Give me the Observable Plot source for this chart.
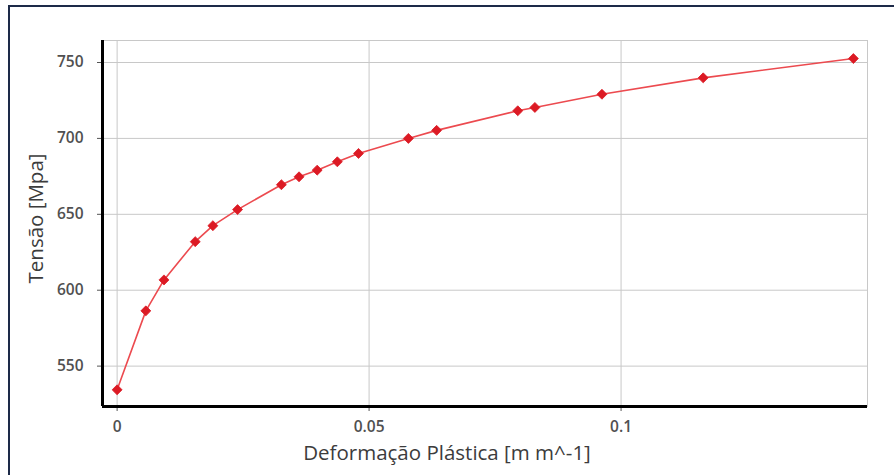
<!DOCTYPE html>
<html>
<head>
<meta charset="utf-8">
<script src="https://cdn.jsdelivr.net/npm/d3@7"></script>
<script src="https://cdn.jsdelivr.net/npm/@observablehq/plot@0.6"></script>
<style>
  html, body { margin: 0; padding: 0; background: #fff; }
  #wrap { position: relative; width: 894px; height: 475px; overflow: hidden; }
  #border { position: absolute; left: 8px; top: 5px; width: 900px; height: 480px;
            border-top: 2px solid #1d2a48; border-left: 2px solid #1d2a48; pointer-events: none; }
</style>
</head>
<body>
<div id="wrap"><div id="border"></div></div>
<script>
const deformacao = [0, 0.0057, 0.0093, 0.0155, 0.0190, 0.0239, 0.0326, 0.0361, 0.0397, 0.0437, 0.0479, 0.0578, 0.0634, 0.0795, 0.0829, 0.0962, 0.1163, 0.1461];
const tensao = [534.4, 586.4, 606.8, 632.0, 642.5, 653.1, 669.5, 674.7, 679.1, 684.6, 690.1, 700.0, 705.3, 718.2, 720.4, 729.1, 739.9, 752.6];
const xTicks = [0, 0.05, 0.1];
const xTickLabels = ["0", "0.05", "0.1"];
const yTicks = [550, 600, 650, 700, 750];
const xDomain = [-0.0029, 0.1489];
const yDomain = [523.4, 764.5];

const data = deformacao.map((d, i) => ({x: d, y: tensao[i]}));

const chart = Plot.plot({
  width: 894,
  height: 475,
  marginLeft: 102,
  marginRight: 27,
  marginTop: 40,
  marginBottom: 69,
  style: {fontFamily: "'Open Sans', sans-serif", fontSize: "15.5px", color: "#505050", background: "transparent"},
  x: {domain: xDomain, ticks: xTicks, label: null},
  y: {domain: yDomain, ticks: yTicks, label: null},
  marks: [
    Plot.gridX(xTicks, {stroke: "#c8c8c8", strokeOpacity: 1, strokeWidth: 1}),
    Plot.gridY(yTicks, {stroke: "#c8c8c8", strokeOpacity: 1, strokeWidth: 1}),
    Plot.frame({stroke: "#c8c8c8", strokeWidth: 1}),
    Plot.axisX({ticks: xTicks, tickFormat: (d) => xTickLabels[xTicks.indexOf(d)], tickSize: 5, tickPadding: 9, stroke: "#555", label: null, fill: "#505050", fontWeight: 600}),
    Plot.axisY({ticks: yTicks, tickSize: 5, tickPadding: 14, stroke: "#555", label: null, fill: "#505050", fontWeight: 600}),
    Plot.line(data, {x: "x", y: "y", stroke: "#ec4a4f", strokeWidth: 1.6}),
    Plot.dot(data, {x: "x", y: "y", symbol: "diamond2", r: 4.5, fill: "#dc1a24", stroke: "#dc1a24", strokeWidth: 0.8}),
    Plot.ruleX([xDomain[0]], {stroke: "#000", strokeWidth: 3}),
    Plot.ruleY([yDomain[0]], {stroke: "#000", strokeWidth: 3}),
    Plot.text(["Deformação Plástica [m m^-1]"], {frameAnchor: "bottom", dx: -38, dy: 47, fontSize: 20.5, fill: "#3c3c3c", textAnchor: "middle", lineAnchor: "middle", text: d => d}),
    Plot.text(["Tensão [Mpa]"], {frameAnchor: "left", dx: -66, dy: -5, rotate: -90, fontSize: 20.5, fill: "#3c3c3c", textAnchor: "middle", text: d => d})
  ]
});
document.getElementById("wrap").prepend(chart);
</script>
</body>
</html>
